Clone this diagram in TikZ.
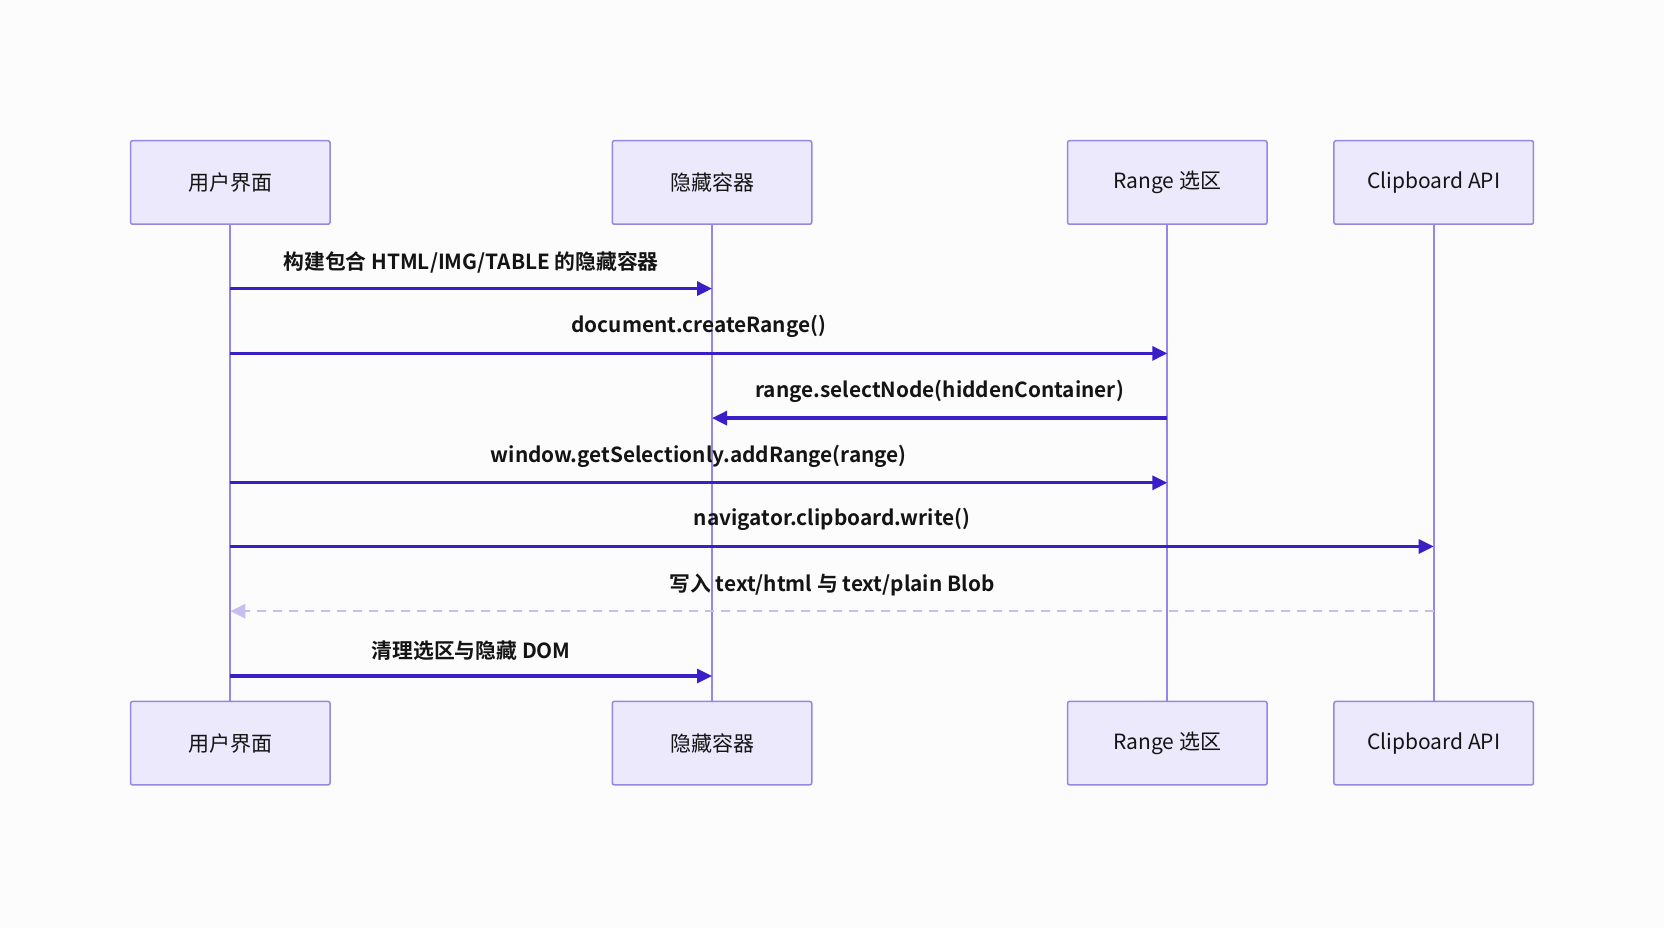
\documentclass[tikz,border=0pt]{standalone}
\usepackage{fontspec}
\setmainfont{Noto Sans CJK SC}[BoldFont={Noto Sans CJK SC Bold}]
\usetikzlibrary{arrows.meta,calc}
\definecolor{bgc}{HTML}{FCFCFD}
\definecolor{boxfill}{HTML}{ECE9FC}
\definecolor{boxline}{HTML}{9489DE}
\definecolor{lifec}{HTML}{9586E8}
\definecolor{msgc}{HTML}{3A1FC8}
\definecolor{retc}{HTML}{C5BFF0}
\begin{document}
\begin{tikzpicture}[x=1pt,y=1pt,
  actor/.style={draw=boxline,line width=1.5pt,fill=boxfill,rounded corners=2pt,
    minimum width=199.5pt,minimum height=83.5pt,inner sep=0pt,
    font=\fontsize{21}{25}\selectfont,text=black!92},
  lifeline/.style={draw=lifec,line width=2pt},
  msg/.style={draw=msgc,line width=3.2pt,-{Triangle[length=15pt,width=14pt]}},
  ret/.style={draw=retc,line width=2.5pt,dash pattern=on 9pt off 7pt,-{Triangle[length=15pt,width=14pt]}},
  lbl/.style={font=\fontsize{20.8}{24}\selectfont\bfseries,text=black!92,inner sep=0pt}]
\useasboundingbox[fill=bgc] (0,0) rectangle (1664,928);
% actors
\node[actor] (uiT) at (230.3,745.5) {用户界面};
\node[actor] (hcT) at (712,745.5) {隐藏容器};
\node[actor] (rgT) at (1167.3,745.5) {Range 选区};
\node[actor] (cbT) at (1433.7,745.5) {Clipboard API};
\node[actor] (uiB) at (230.3,184.8) {用户界面};
\node[actor] (hcB) at (712,184.8) {隐藏容器};
\node[actor] (rgB) at (1167.3,184.8) {Range 选区};
\node[actor] (cbB) at (1433.7,184.8) {Clipboard API};
% lifelines
\draw[lifeline] (uiT.south) -- (uiB.north);
\draw[lifeline] (hcT.south) -- (hcB.north);
\draw[lifeline] (rgT.south) -- (rgB.north);
\draw[lifeline] (cbT.south) -- (cbB.north);
% message anchor points
\foreach \i/\y in {1/639.4,2/574.6,3/509.9,4/445.2,5/381.5,6/316.8,7/252}{
  \coordinate (u\i) at (uiT.south |- 0,\y);
  \coordinate (h\i) at (hcT.south |- 0,\y);
  \coordinate (r\i) at (rgT.south |- 0,\y);
  \coordinate (c\i) at (cbT.south |- 0,\y);
}
\draw[msg] (u1) -- node[lbl,above=14pt]{构建包合 HTML/IMG/TABLE 的隐藏容器} (h1);
\draw[msg] (u2) -- node[lbl,above=14pt]{document.createRange()} (r2);
\draw[msg] (r3) -- node[lbl,above=14pt]{range.selectNode(hiddenContainer)} (h3);
\draw[msg] (u4) -- node[lbl,above=14pt]{window.getSelectionly.addRange(range)} (r4);
\draw[msg] (u5) -- node[lbl,above=14pt]{navigator.clipboard.write()} (c5);
\draw[ret] (c6) -- node[lbl,above=14pt]{写入 text/html 与 text/plain Blob} (u6);
\draw[msg] (u7) -- node[lbl,above=14pt]{清理选区与隐藏 DOM} (h7);
\end{tikzpicture}
\end{document}
